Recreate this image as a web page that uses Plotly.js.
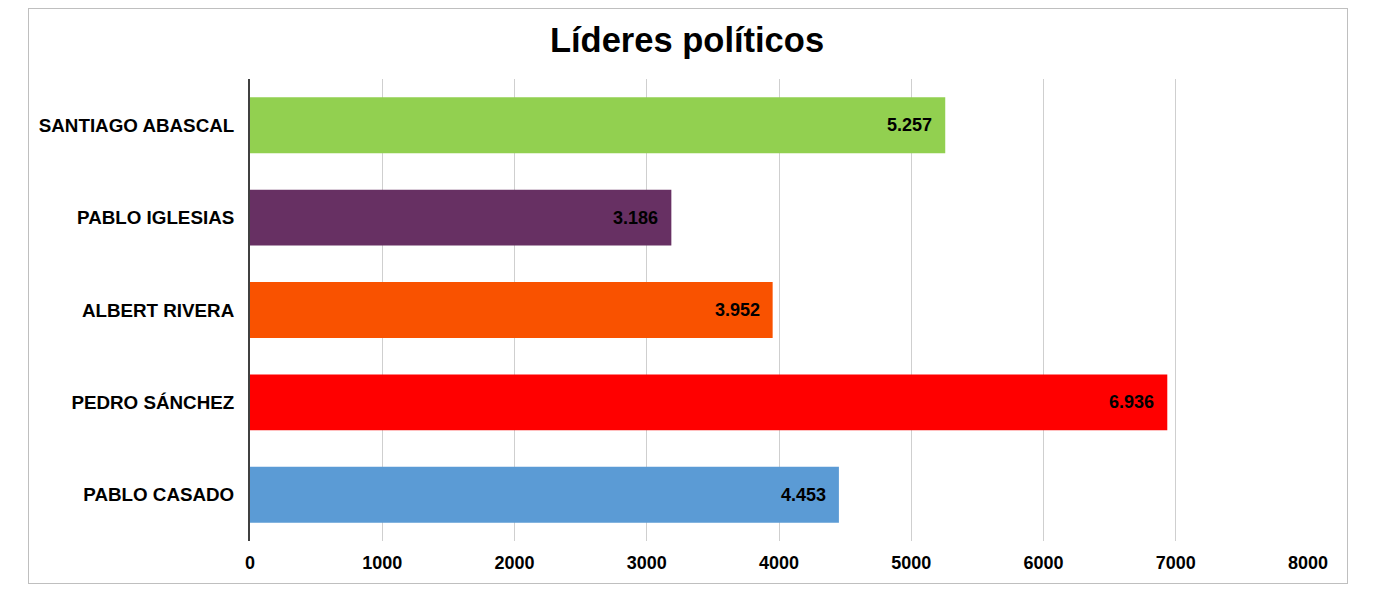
<!DOCTYPE html>
<html>
<head>
<meta charset="utf-8">
<script src="https://cdn.plot.ly/plotly-3.0.1.min.js"></script>
<style>
  html, body { margin: 0; padding: 0; background: #fff; }
  #frame { position: absolute; left: 28px; top: 8px; width: 1318px; height: 574px; border: 1px solid #bfbfbf; box-sizing: content-box; }
  #chart { position: absolute; left: 0; top: 0; width: 1389px; height: 607px; }
</style>
</head>
<body>
<div id="frame"></div>
<div id="chart"></div>
<script>
const categories = ["SANTIAGO ABASCAL", "PABLO IGLESIAS", "ALBERT RIVERA", "PEDRO SÁNCHEZ", "PABLO CASADO"];
const values = [5257, 3186, 3952, 6936, 4453];
const barColors = ["#92D050", "#673063", "#F95200", "#FF0000", "#5B9BD5"];
const xTicks = [0, 1000, 2000, 3000, 4000, 5000, 6000, 7000, 8000];

const labels = values.map(v => String(v).replace(/\B(?=(\d{3})+(?!\d))/g, "."));
const fontFam = "Arial, 'Liberation Sans', sans-serif";

const trace = {
  type: "bar",
  orientation: "h",
  y: categories,
  x: values,
  marker: { color: barColors, line: { width: 0 } },
  hoverinfo: "x+y"
};

const annotations = values.map((v, i) => ({
  x: v,
  y: categories[i],
  xref: "x",
  yref: "y",
  text: labels[i],
  showarrow: false,
  xanchor: "right",
  yanchor: "middle",
  xshift: -11,
  font: { family: fontFam, size: 18, color: "#000", weight: "bold" }
}));

const layout = {
  width: 1389,
  height: 607,
  paper_bgcolor: "rgba(0,0,0,0)",
  plot_bgcolor: "rgba(0,0,0,0)",
  margin: { l: 250, r: 81, t: 79, b: 66 },
  bargap: 0.395,
  showlegend: false,
  annotations: annotations,
  title: {
    text: "Líderes políticos",
    x: 687 / 1389,
    xref: "container",
    xanchor: "center",
    y: 1 - 40 / 607,
    yref: "container",
    yanchor: "middle",
    font: { family: fontFam, size: 34.5, color: "#000", weight: "bold" }
  },
  xaxis: {
    range: [0, 8000],
    tickvals: xTicks,
    ticktext: xTicks.map(String),
    showgrid: true,
    gridcolor: "#cfcfcf",
    gridwidth: 1,
    zeroline: false,
    showline: false,
    ticks: "",
    ticklabelstandoff: 9,
    tickfont: { family: fontFam, size: 18, color: "#000", weight: "bold" },
    fixedrange: true
  },
  yaxis: {
    type: "category",
    autorange: "reversed",
    showgrid: false,
    zeroline: false,
    showline: true,
    linecolor: "#404040",
    linewidth: 2,
    ticks: "",
    ticklabelstandoff: 10,
    tickfont: { family: fontFam, size: 18.8, color: "#000", weight: "bold" },
    fixedrange: true
  }
};

Plotly.newPlot("chart", [trace], layout, { displayModeBar: false, responsive: false });
</script>
</body>
</html>
